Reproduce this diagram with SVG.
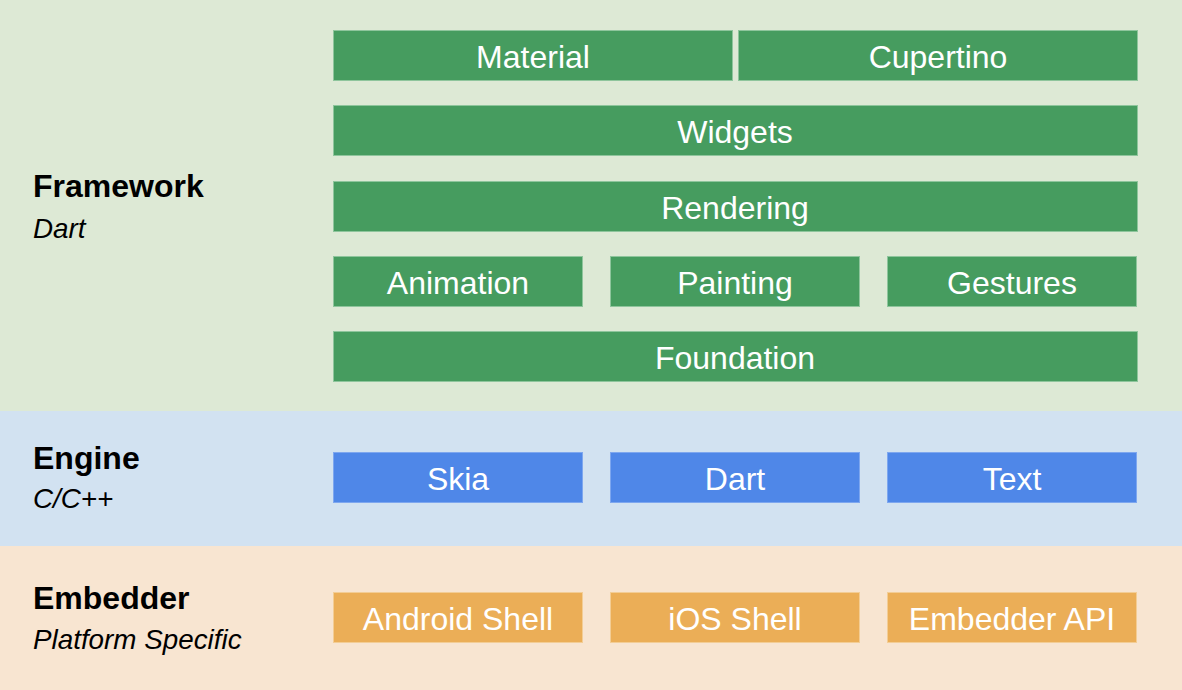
<svg xmlns="http://www.w3.org/2000/svg" width="1182" height="690" viewBox="0 0 1182 690">
<style>
.band-label{font-family:"Liberation Sans",Arial,sans-serif;font-weight:bold;font-size:32px;fill:#000}
.band-sub{font-family:"Liberation Sans",Arial,sans-serif;font-style:italic;font-size:27.8px;fill:#000}
.bx{font-family:"Liberation Sans",Arial,sans-serif;font-size:32px;fill:#fff;text-anchor:middle}
.g{fill:#469c5f;stroke:#8ec59c;stroke-width:1}
.b{fill:#4f87e8;stroke:#7ea7ef;stroke-width:1}
.o{fill:#ebae57;stroke:#f3cd95;stroke-width:1}
</style>
<g id="bands">
<rect x="0" y="0" width="1182" height="411" fill="#dde9d5"/>
<rect x="0" y="411" width="1182" height="135" fill="#d2e2f1"/>
<rect x="0" y="546" width="1182" height="144" fill="#f8e5d1"/>
</g>
<g id="layer-labels">
<text class="band-label" x="33" y="197">Framework</text>
<text class="band-sub" x="33" y="238">Dart</text>
<text class="band-label" x="33" y="469">Engine</text>
<text class="band-sub" x="33" y="508">C/C++</text>
<text class="band-label" x="33" y="609">Embedder</text>
<text class="band-sub" x="33" y="649">Platform Specific</text>
</g>
<g id="material"><rect class="g" x="333.5" y="30.5" width="399" height="50"/><text class="bx" x="533" y="67.5">Material</text></g>
<g id="cupertino"><rect class="g" x="738.5" y="30.5" width="399" height="50"/><text class="bx" x="938" y="67.5">Cupertino</text></g>
<g id="widgets"><rect class="g" x="333.5" y="105.5" width="804" height="50"/><text class="bx" x="735" y="142.5">Widgets</text></g>
<g id="rendering"><rect class="g" x="333.5" y="181.5" width="804" height="50"/><text class="bx" x="735" y="218.5">Rendering</text></g>
<g id="animation"><rect class="g" x="333.5" y="256.5" width="249" height="50"/><text class="bx" x="458" y="293.5">Animation</text></g>
<g id="painting"><rect class="g" x="610.5" y="256.5" width="249" height="50"/><text class="bx" x="735" y="293.5">Painting</text></g>
<g id="gestures"><rect class="g" x="887.5" y="256.5" width="249" height="50"/><text class="bx" x="1012" y="293.5">Gestures</text></g>
<g id="foundation"><rect class="g" x="333.5" y="331.5" width="804" height="50"/><text class="bx" x="735" y="368.5">Foundation</text></g>
<g id="skia"><rect class="b" x="333.5" y="452.5" width="249" height="50"/><text class="bx" x="458" y="489.5">Skia</text></g>
<g id="dart"><rect class="b" x="610.5" y="452.5" width="249" height="50"/><text class="bx" x="735" y="489.5">Dart</text></g>
<g id="text"><rect class="b" x="887.5" y="452.5" width="249" height="50"/><text class="bx" x="1012" y="489.5">Text</text></g>
<g id="android-shell"><rect class="o" x="333.5" y="592.5" width="249" height="50"/><text class="bx" x="458" y="629.5">Android Shell</text></g>
<g id="ios-shell"><rect class="o" x="610.5" y="592.5" width="249" height="50"/><text class="bx" x="735" y="629.5">iOS Shell</text></g>
<g id="embedder-api"><rect class="o" x="887.5" y="592.5" width="249" height="50"/><text class="bx" x="1012" y="629.5">Embedder API</text></g>
<g id="connectors"/>
</svg>
